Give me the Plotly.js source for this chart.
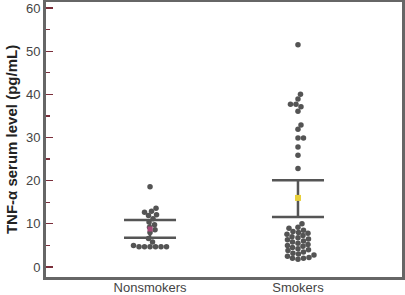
<!DOCTYPE html>
<html>
<head>
<meta charset="utf-8">
<script src="https://cdn.plot.ly/plotly-3.0.1.min.js"></script>
<style>html,body{margin:0;padding:0;background:#fff}#chart{width:405px;height:295px}</style>
</head>
<body>
<div id="chart"></div>
<script>
const categories = ["Nonsmokers", "Smokers"];
const nonsmokers = [18.6, 13.6, 12.9, 12.7, 12.1, 11.9, 11.2, 10.4, 9.8, 9.2, 8.6, 8.0, 6.6, 5.8, 5.0, 4.7, 4.7, 4.7, 4.7, 4.7, 4.7];
const smokers = [51.5, 40.0, 38.9, 37.7, 37.7, 37.1, 36.1, 32.9, 31.9, 29.9, 29.9, 27.8, 25.9, 22.8,
  10.0, 9.2, 9.0, 8.5, 8.2, 8.0, 7.8, 7.6, 7.3, 7.0, 6.8, 6.5, 6.3, 6.0, 5.8, 5.5, 5.2, 5.0, 4.8,
  4.5, 4.2, 4.0, 3.8, 3.5, 3.2, 3.0, 2.8, 2.5, 2.2, 2.0, 2.0, 1.8];
const means = [8.8, 16.0];
const upper = [10.9, 20.1];
const lower = [6.8, 11.6];
const yTicks = [0, 10, 20, 30, 40, 50, 60];

// beeswarm layout computed from values (pixel scale factors)
const PX_PER_Y = 4.3167, PX_PER_X = 148, D = 5.2;
function swarm(vals) {
  const idx = vals.map((v, i) => i).sort((a, b) => vals[a] - vals[b]);
  const placed = [];
  const off = new Array(vals.length).fill(0);
  idx.forEach(i => {
    const py = vals[i] * PX_PER_Y;
    let best = null;
    for (let k = 0; k < 60 && best === null; k++) {
      const cands = k === 0 ? [0] : [k * 0.5, -k * 0.5];
      for (const c of cands) {
        const ok = placed.every(p => (p.x - c) ** 2 + (p.y - py) ** 2 >= D * D);
        if (ok) { best = c; break; }
      }
    }
    placed.push({x: best, y: py});
    off[i] = best / PX_PER_X;
  });
  return off;
}
const nsOff = swarm(nonsmokers), sOff = swarm(smokers);

const dotMarker = {color: '#545454', size: 5.5, line: {width: 0}};
const traces = [
  {type: 'scatter', mode: 'markers', x: nonsmokers.map((v, i) => 0 + nsOff[i]), y: nonsmokers, marker: dotMarker, hoverinfo: 'none'},
  {type: 'scatter', mode: 'markers', x: smokers.map((v, i) => 1 + sOff[i]), y: smokers, marker: dotMarker, hoverinfo: 'none'},
  {type: 'scatter', mode: 'markers', x: [0], y: [means[0]],
    marker: {color: '#a8487a', size: 5, symbol: 'square'},
    error_y: {type: 'data', symmetric: false, array: [upper[0] - means[0]], arrayminus: [means[0] - lower[0]], color: '#555', thickness: 2.5, width: 26}},
  {type: 'scatter', mode: 'markers', x: [1], y: [means[1]],
    marker: {color: '#e8cf3a', size: 6, symbol: 'square'},
    error_y: {type: 'data', symmetric: false, array: [upper[1] - means[1]], arrayminus: [means[1] - lower[1]], color: '#555', thickness: 2.5, width: 26}}
];

const layout = {
  width: 405, height: 295,
  margin: {l: 46, r: 3, t: 2, b: 18},
  paper_bgcolor: '#fff', plot_bgcolor: '#fff',
  showlegend: false,
  font: {family: 'Liberation Sans, Arial, sans-serif', color: '#444', size: 13},
  xaxis: {
    range: [-0.703, 1.703], tickvals: [0, 1], ticktext: categories,
    showgrid: false, zeroline: false, showline: true, mirror: true,
    linecolor: '#666', linewidth: 3, ticks: '', ticklen: 0,
    ticklabelstandoff: -4,
    tickfont: {size: 13, color: '#444'}
  },
  yaxis: {
    range: [-2.32, 61.39], tickvals: yTicks, showgrid: false, zeroline: false,
    showline: true, mirror: true, linecolor: '#666', linewidth: 3,
    ticks: 'inside', ticklen: 7, tickwidth: 1.3, tickcolor: '#7a2e3a',
    minor: {dtick: 5, ticks: 'inside', ticklen: 4, tickwidth: 1.3, tickcolor: '#7a2e3a', tick0: 5},
    tickfont: {size: 13, color: '#444'},
    title: {text: '<b>TNF-α serum level (pg/mL)</b>', font: {size: 15, color: '#222'}, standoff: 5}
  }
};
Plotly.newPlot('chart', traces, layout, {staticPlot: true, displayModeBar: false});
</script>
</body>
</html>
